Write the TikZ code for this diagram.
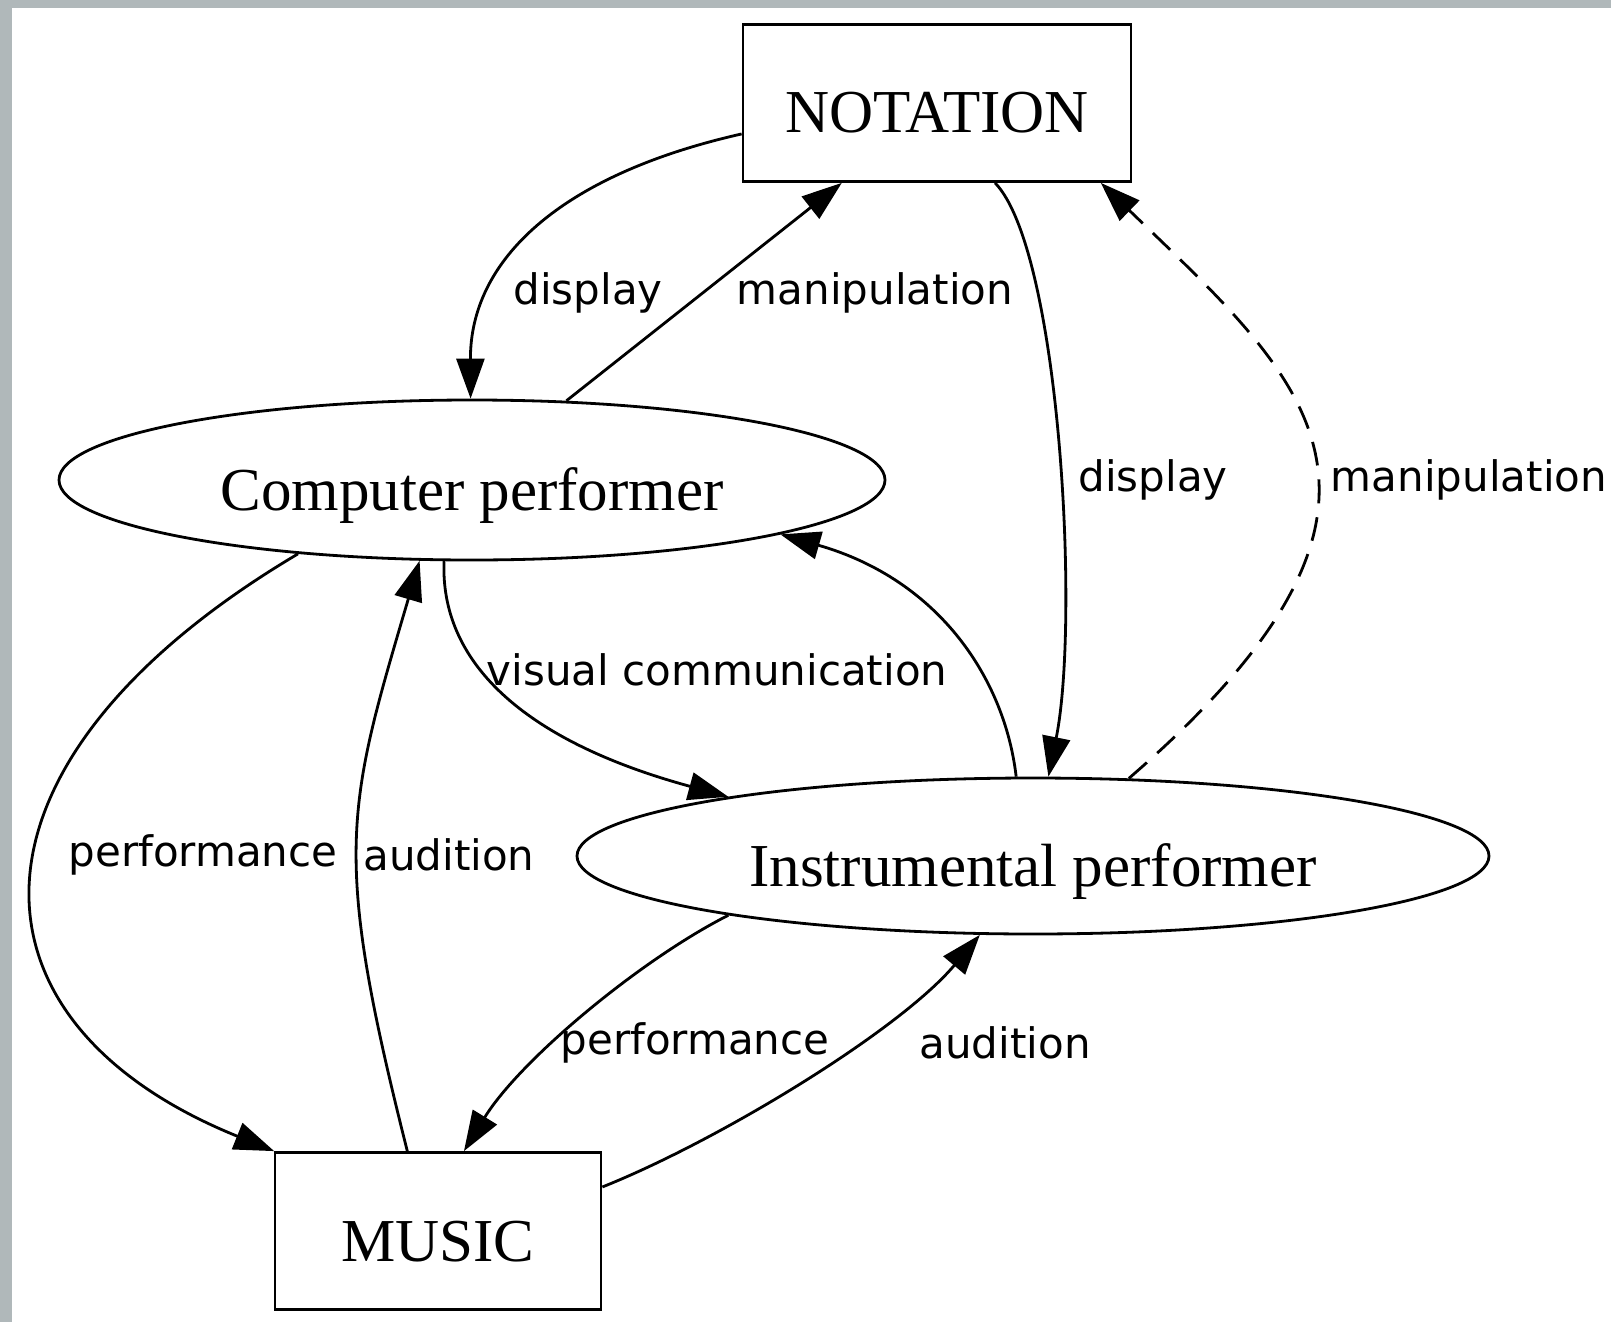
\documentclass[tikz,border=0pt]{standalone}
\usepackage{fontspec}
\setmainfont{Liberation Serif}
\newfontfamily\labelfont{DejaVu Sans}
\usepackage{tikz}
\usetikzlibrary{shapes.geometric, arrows.meta}
\definecolor{framegray}{RGB}{176,184,186}
\tikzset{
  box_node/.style={rectangle, draw=black, line width=1.4pt, inner sep=0pt, minimum height=78.5pt, text height=37pt, text depth=7pt, font=\fontsize{30.5}{36}\selectfont},
  performer_node/.style={ellipse, draw=black, line width=1.4pt, inner sep=0pt, text height=37pt, text depth=7pt, font=\fontsize{30.5}{36}\selectfont},
  edge_label/.style={inner sep=0pt, font=\labelfont\fontsize{21}{25}\selectfont},
  arrow/.style={-{Triangle[length=20pt, width=14pt]}, line width=1.4pt, black},
  dashed_arrow/.style={arrow, dash pattern=on 12pt off 7pt}
}

\begin{document}
\begin{tikzpicture}[x=0.5pt, y=-0.5pt]

  % Frame and page
  \useasboundingbox (0,0) rectangle (1611,1322);
  \fill[white] (0,0) rectangle (1611,1322);
  \fill[framegray] (0,0) rectangle (1611,8);
  \fill[framegray] (0,0) rectangle (12,1322);

  % Nodes
  \node[box_node, minimum width=194pt] (notation) at (937,103) {NOTATION};
  \node[performer_node, minimum width=413pt, minimum height=80pt] (comp) at (472,480) {Computer performer};
  \node[performer_node, minimum width=456pt, minimum height=78pt] (instr) at (1033,856) {Instrumental performer};
  \node[box_node, minimum width=163pt] (music) at (438,1231) {MUSIC};

  % Notation <-> computer performer
  \draw[arrow] (notation.189) .. controls (560,175) and (470,260) .. (comp.91);
  \draw[arrow] (comp.40) -- (notation.220);

  % Notation <-> instrumental performer
  \draw[arrow] (notation.306) .. controls (1060,250) and (1080,620) .. (instr.79);
  \draw[dashed_arrow] (instr.39) .. controls (1450,500) and (1305,380) .. (notation.334);

  % Between the performers
  \draw[arrow] (instr.102) .. controls (1005,680) and (940,580) .. (comp.350);
  \draw[arrow] (comp.251) .. controls (440,660) and (520,740) .. (instr.169);

  % Computer performer <-> music
  \draw[arrow] (comp.203) .. controls (-50,760) and (-50,1020) .. (music.154);
  \draw[arrow] (music.111) .. controls (332,853) and (346,810) .. (comp.237);

  % Instrumental performer <-> music
  \draw[arrow] (instr.191) .. controls (640,960) and (520,1060) .. (music.72);
  \draw[arrow] (music.15) .. controls (720,1140) and (900,1030) .. (instr.236);

  % Edge labels
  \node[edge_label] (lbl_display_a) at (588,293) {display};
  \node[edge_label] (lbl_manip_a) at (875,293) {manipulation};
  \node[edge_label] (lbl_display_b) at (1153,480) {display};
  \node[edge_label] (lbl_manip_b) at (1469,480) {manipulation};
  \node[edge_label] (lbl_visual) at (717,670) {visual communication};
  \node[edge_label] (lbl_perf_a) at (203,855) {performance};
  \node[edge_label] (lbl_aud_a) at (449,855) {audition};
  \node[edge_label] (lbl_perf_b) at (695,1043) {performance};
  \node[edge_label] (lbl_aud_b) at (1005,1043) {audition};

\end{tikzpicture}
\end{document}
